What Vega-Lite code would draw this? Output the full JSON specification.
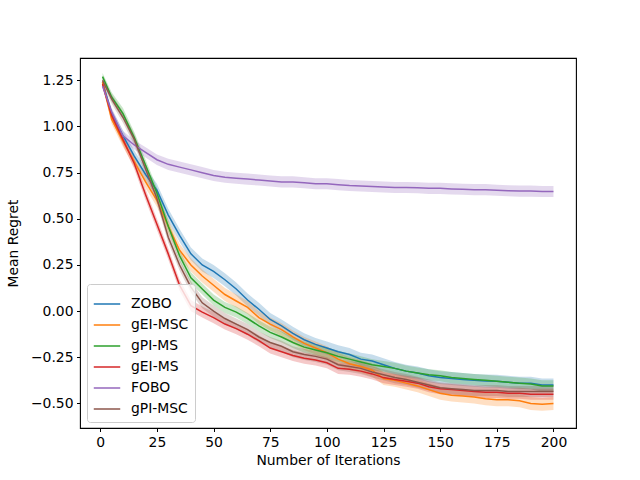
{
  "$schema": "https://vega.github.io/schema/vega-lite/v6.json",
  "width": 496,
  "height": 370,
  "autosize": {"type": "none"},
  "padding": {"left": 80, "top": 58, "right": 64, "bottom": 52},
  "background": "white",
  "config": {
    "font": "DejaVu Sans",
    "view": {"stroke": "black", "strokeWidth": 1.1},
    "axis": {
      "grid": false,
      "domain": false,
      "tickColor": "black",
      "tickSize": 3.5,
      "tickWidth": 1,
      "labelFont": "DejaVu Sans",
      "labelFontSize": 13.9,
      "labelColor": "black",
      "labelPadding": 3.5,
      "titleFont": "DejaVu Sans",
      "titleFontSize": 13.9,
      "titleFontWeight": "normal",
      "titleColor": "black"
    },
    "legend": {
      "labelFont": "DejaVu Sans",
      "labelFontSize": 13.9,
      "labelColor": "black"
    }
  },
  "data": {
    "values": [
      {"s": "ZOBO", "i": 1, "v": 1.24, "e": 0.02},
      {"s": "ZOBO", "i": 5, "v": 1.07, "e": 0.025},
      {"s": "ZOBO", "i": 10, "v": 0.95, "e": 0.03},
      {"s": "ZOBO", "i": 15, "v": 0.84, "e": 0.03},
      {"s": "ZOBO", "i": 20, "v": 0.74, "e": 0.035},
      {"s": "ZOBO", "i": 25, "v": 0.655, "e": 0.035},
      {"s": "ZOBO", "i": 30, "v": 0.52, "e": 0.035},
      {"s": "ZOBO", "i": 35, "v": 0.41, "e": 0.035},
      {"s": "ZOBO", "i": 40, "v": 0.31, "e": 0.035},
      {"s": "ZOBO", "i": 45, "v": 0.25, "e": 0.035},
      {"s": "ZOBO", "i": 50, "v": 0.215, "e": 0.035},
      {"s": "ZOBO", "i": 55, "v": 0.17, "e": 0.035},
      {"s": "ZOBO", "i": 60, "v": 0.12, "e": 0.035},
      {"s": "ZOBO", "i": 65, "v": 0.06, "e": 0.035},
      {"s": "ZOBO", "i": 70, "v": 0.01, "e": 0.035},
      {"s": "ZOBO", "i": 75, "v": -0.045, "e": 0.035},
      {"s": "ZOBO", "i": 80, "v": -0.08, "e": 0.035},
      {"s": "ZOBO", "i": 85, "v": -0.12, "e": 0.035},
      {"s": "ZOBO", "i": 90, "v": -0.155, "e": 0.035},
      {"s": "ZOBO", "i": 95, "v": -0.18, "e": 0.035},
      {"s": "ZOBO", "i": 100, "v": -0.2, "e": 0.035},
      {"s": "ZOBO", "i": 105, "v": -0.22, "e": 0.035},
      {"s": "ZOBO", "i": 110, "v": -0.235, "e": 0.035},
      {"s": "ZOBO", "i": 115, "v": -0.26, "e": 0.035},
      {"s": "ZOBO", "i": 120, "v": -0.27, "e": 0.035},
      {"s": "ZOBO", "i": 125, "v": -0.29, "e": 0.035},
      {"s": "ZOBO", "i": 130, "v": -0.31, "e": 0.035},
      {"s": "ZOBO", "i": 135, "v": -0.325, "e": 0.035},
      {"s": "ZOBO", "i": 140, "v": -0.335, "e": 0.035},
      {"s": "ZOBO", "i": 145, "v": -0.35, "e": 0.035},
      {"s": "ZOBO", "i": 150, "v": -0.36, "e": 0.035},
      {"s": "ZOBO", "i": 155, "v": -0.365, "e": 0.035},
      {"s": "ZOBO", "i": 160, "v": -0.37, "e": 0.035},
      {"s": "ZOBO", "i": 165, "v": -0.375, "e": 0.035},
      {"s": "ZOBO", "i": 170, "v": -0.378, "e": 0.035},
      {"s": "ZOBO", "i": 175, "v": -0.38, "e": 0.035},
      {"s": "ZOBO", "i": 180, "v": -0.385, "e": 0.035},
      {"s": "ZOBO", "i": 185, "v": -0.39, "e": 0.035},
      {"s": "ZOBO", "i": 190, "v": -0.39, "e": 0.035},
      {"s": "ZOBO", "i": 195, "v": -0.4, "e": 0.035},
      {"s": "ZOBO", "i": 200, "v": -0.4, "e": 0.035},

      {"s": "gEI-MSC", "i": 1, "v": 1.24, "e": 0.02},
      {"s": "gEI-MSC", "i": 5, "v": 1.04, "e": 0.025},
      {"s": "gEI-MSC", "i": 10, "v": 0.92, "e": 0.03},
      {"s": "gEI-MSC", "i": 15, "v": 0.81, "e": 0.03},
      {"s": "gEI-MSC", "i": 20, "v": 0.7, "e": 0.035},
      {"s": "gEI-MSC", "i": 25, "v": 0.6, "e": 0.035},
      {"s": "gEI-MSC", "i": 30, "v": 0.46, "e": 0.035},
      {"s": "gEI-MSC", "i": 35, "v": 0.33, "e": 0.035},
      {"s": "gEI-MSC", "i": 40, "v": 0.25, "e": 0.035},
      {"s": "gEI-MSC", "i": 45, "v": 0.19, "e": 0.035},
      {"s": "gEI-MSC", "i": 50, "v": 0.14, "e": 0.035},
      {"s": "gEI-MSC", "i": 55, "v": 0.09, "e": 0.035},
      {"s": "gEI-MSC", "i": 60, "v": 0.055, "e": 0.035},
      {"s": "gEI-MSC", "i": 65, "v": 0.02, "e": 0.035},
      {"s": "gEI-MSC", "i": 70, "v": -0.035, "e": 0.035},
      {"s": "gEI-MSC", "i": 75, "v": -0.07, "e": 0.035},
      {"s": "gEI-MSC", "i": 80, "v": -0.1, "e": 0.035},
      {"s": "gEI-MSC", "i": 85, "v": -0.14, "e": 0.035},
      {"s": "gEI-MSC", "i": 90, "v": -0.175, "e": 0.035},
      {"s": "gEI-MSC", "i": 95, "v": -0.2, "e": 0.035},
      {"s": "gEI-MSC", "i": 100, "v": -0.225, "e": 0.035},
      {"s": "gEI-MSC", "i": 105, "v": -0.26, "e": 0.035},
      {"s": "gEI-MSC", "i": 110, "v": -0.285, "e": 0.035},
      {"s": "gEI-MSC", "i": 115, "v": -0.3, "e": 0.035},
      {"s": "gEI-MSC", "i": 120, "v": -0.32, "e": 0.035},
      {"s": "gEI-MSC", "i": 125, "v": -0.365, "e": 0.035},
      {"s": "gEI-MSC", "i": 130, "v": -0.375, "e": 0.035},
      {"s": "gEI-MSC", "i": 135, "v": -0.39, "e": 0.035},
      {"s": "gEI-MSC", "i": 140, "v": -0.405, "e": 0.035},
      {"s": "gEI-MSC", "i": 145, "v": -0.425, "e": 0.035},
      {"s": "gEI-MSC", "i": 150, "v": -0.445, "e": 0.035},
      {"s": "gEI-MSC", "i": 155, "v": -0.455, "e": 0.035},
      {"s": "gEI-MSC", "i": 160, "v": -0.46, "e": 0.035},
      {"s": "gEI-MSC", "i": 165, "v": -0.465, "e": 0.035},
      {"s": "gEI-MSC", "i": 170, "v": -0.475, "e": 0.035},
      {"s": "gEI-MSC", "i": 175, "v": -0.48, "e": 0.035},
      {"s": "gEI-MSC", "i": 180, "v": -0.48, "e": 0.035},
      {"s": "gEI-MSC", "i": 185, "v": -0.485, "e": 0.035},
      {"s": "gEI-MSC", "i": 190, "v": -0.5, "e": 0.035},
      {"s": "gEI-MSC", "i": 195, "v": -0.505, "e": 0.035},
      {"s": "gEI-MSC", "i": 200, "v": -0.5, "e": 0.035},

      {"s": "gPI-MS", "i": 1, "v": 1.27, "e": 0.02},
      {"s": "gPI-MS", "i": 5, "v": 1.16, "e": 0.025},
      {"s": "gPI-MS", "i": 10, "v": 1.07, "e": 0.03},
      {"s": "gPI-MS", "i": 15, "v": 0.94, "e": 0.03},
      {"s": "gPI-MS", "i": 20, "v": 0.79, "e": 0.03},
      {"s": "gPI-MS", "i": 25, "v": 0.64, "e": 0.03},
      {"s": "gPI-MS", "i": 30, "v": 0.46, "e": 0.03},
      {"s": "gPI-MS", "i": 35, "v": 0.3, "e": 0.03},
      {"s": "gPI-MS", "i": 40, "v": 0.18, "e": 0.03},
      {"s": "gPI-MS", "i": 45, "v": 0.12, "e": 0.03},
      {"s": "gPI-MS", "i": 50, "v": 0.06, "e": 0.03},
      {"s": "gPI-MS", "i": 55, "v": 0.02, "e": 0.03},
      {"s": "gPI-MS", "i": 60, "v": -0.005, "e": 0.03},
      {"s": "gPI-MS", "i": 65, "v": -0.04, "e": 0.03},
      {"s": "gPI-MS", "i": 70, "v": -0.08, "e": 0.03},
      {"s": "gPI-MS", "i": 75, "v": -0.115, "e": 0.03},
      {"s": "gPI-MS", "i": 80, "v": -0.14, "e": 0.03},
      {"s": "gPI-MS", "i": 85, "v": -0.17, "e": 0.03},
      {"s": "gPI-MS", "i": 90, "v": -0.195, "e": 0.03},
      {"s": "gPI-MS", "i": 95, "v": -0.21, "e": 0.03},
      {"s": "gPI-MS", "i": 100, "v": -0.225, "e": 0.03},
      {"s": "gPI-MS", "i": 105, "v": -0.245, "e": 0.03},
      {"s": "gPI-MS", "i": 110, "v": -0.26, "e": 0.03},
      {"s": "gPI-MS", "i": 115, "v": -0.275, "e": 0.03},
      {"s": "gPI-MS", "i": 120, "v": -0.29, "e": 0.03},
      {"s": "gPI-MS", "i": 125, "v": -0.3, "e": 0.03},
      {"s": "gPI-MS", "i": 130, "v": -0.31, "e": 0.03},
      {"s": "gPI-MS", "i": 135, "v": -0.325, "e": 0.03},
      {"s": "gPI-MS", "i": 140, "v": -0.335, "e": 0.03},
      {"s": "gPI-MS", "i": 145, "v": -0.345, "e": 0.03},
      {"s": "gPI-MS", "i": 150, "v": -0.35, "e": 0.03},
      {"s": "gPI-MS", "i": 155, "v": -0.36, "e": 0.03},
      {"s": "gPI-MS", "i": 160, "v": -0.365, "e": 0.03},
      {"s": "gPI-MS", "i": 165, "v": -0.37, "e": 0.03},
      {"s": "gPI-MS", "i": 170, "v": -0.375, "e": 0.03},
      {"s": "gPI-MS", "i": 175, "v": -0.38, "e": 0.03},
      {"s": "gPI-MS", "i": 180, "v": -0.385, "e": 0.03},
      {"s": "gPI-MS", "i": 185, "v": -0.39, "e": 0.03},
      {"s": "gPI-MS", "i": 190, "v": -0.395, "e": 0.03},
      {"s": "gPI-MS", "i": 195, "v": -0.405, "e": 0.03},
      {"s": "gPI-MS", "i": 200, "v": -0.405, "e": 0.03},

      {"s": "gEI-MS", "i": 1, "v": 1.23, "e": 0.02},
      {"s": "gEI-MS", "i": 5, "v": 1.06, "e": 0.025},
      {"s": "gEI-MS", "i": 10, "v": 0.93, "e": 0.03},
      {"s": "gEI-MS", "i": 15, "v": 0.8, "e": 0.03},
      {"s": "gEI-MS", "i": 20, "v": 0.63, "e": 0.03},
      {"s": "gEI-MS", "i": 25, "v": 0.47, "e": 0.03},
      {"s": "gEI-MS", "i": 30, "v": 0.31, "e": 0.03},
      {"s": "gEI-MS", "i": 35, "v": 0.14, "e": 0.03},
      {"s": "gEI-MS", "i": 40, "v": 0.03, "e": 0.03},
      {"s": "gEI-MS", "i": 45, "v": -0.005, "e": 0.03},
      {"s": "gEI-MS", "i": 50, "v": -0.035, "e": 0.03},
      {"s": "gEI-MS", "i": 55, "v": -0.07, "e": 0.03},
      {"s": "gEI-MS", "i": 60, "v": -0.095, "e": 0.03},
      {"s": "gEI-MS", "i": 65, "v": -0.125, "e": 0.03},
      {"s": "gEI-MS", "i": 70, "v": -0.16, "e": 0.03},
      {"s": "gEI-MS", "i": 75, "v": -0.2, "e": 0.03},
      {"s": "gEI-MS", "i": 80, "v": -0.22, "e": 0.03},
      {"s": "gEI-MS", "i": 85, "v": -0.24, "e": 0.03},
      {"s": "gEI-MS", "i": 90, "v": -0.255, "e": 0.03},
      {"s": "gEI-MS", "i": 95, "v": -0.265, "e": 0.03},
      {"s": "gEI-MS", "i": 100, "v": -0.28, "e": 0.03},
      {"s": "gEI-MS", "i": 105, "v": -0.31, "e": 0.03},
      {"s": "gEI-MS", "i": 110, "v": -0.315, "e": 0.03},
      {"s": "gEI-MS", "i": 115, "v": -0.325, "e": 0.03},
      {"s": "gEI-MS", "i": 120, "v": -0.34, "e": 0.03},
      {"s": "gEI-MS", "i": 125, "v": -0.36, "e": 0.03},
      {"s": "gEI-MS", "i": 130, "v": -0.37, "e": 0.03},
      {"s": "gEI-MS", "i": 135, "v": -0.38, "e": 0.03},
      {"s": "gEI-MS", "i": 140, "v": -0.39, "e": 0.03},
      {"s": "gEI-MS", "i": 145, "v": -0.41, "e": 0.03},
      {"s": "gEI-MS", "i": 150, "v": -0.42, "e": 0.03},
      {"s": "gEI-MS", "i": 155, "v": -0.425, "e": 0.03},
      {"s": "gEI-MS", "i": 160, "v": -0.43, "e": 0.03},
      {"s": "gEI-MS", "i": 165, "v": -0.435, "e": 0.03},
      {"s": "gEI-MS", "i": 170, "v": -0.44, "e": 0.03},
      {"s": "gEI-MS", "i": 175, "v": -0.44, "e": 0.03},
      {"s": "gEI-MS", "i": 180, "v": -0.445, "e": 0.03},
      {"s": "gEI-MS", "i": 185, "v": -0.445, "e": 0.03},
      {"s": "gEI-MS", "i": 190, "v": -0.45, "e": 0.03},
      {"s": "gEI-MS", "i": 195, "v": -0.45, "e": 0.03},
      {"s": "gEI-MS", "i": 200, "v": -0.45, "e": 0.03},

      {"s": "FOBO", "i": 1, "v": 1.22, "e": 0.015},
      {"s": "FOBO", "i": 5, "v": 1.08, "e": 0.02},
      {"s": "FOBO", "i": 10, "v": 0.95, "e": 0.025},
      {"s": "FOBO", "i": 15, "v": 0.9, "e": 0.025},
      {"s": "FOBO", "i": 20, "v": 0.86, "e": 0.028},
      {"s": "FOBO", "i": 25, "v": 0.82, "e": 0.028},
      {"s": "FOBO", "i": 30, "v": 0.795, "e": 0.03},
      {"s": "FOBO", "i": 35, "v": 0.78, "e": 0.03},
      {"s": "FOBO", "i": 40, "v": 0.765, "e": 0.03},
      {"s": "FOBO", "i": 45, "v": 0.75, "e": 0.03},
      {"s": "FOBO", "i": 50, "v": 0.735, "e": 0.03},
      {"s": "FOBO", "i": 55, "v": 0.725, "e": 0.03},
      {"s": "FOBO", "i": 60, "v": 0.72, "e": 0.03},
      {"s": "FOBO", "i": 65, "v": 0.715, "e": 0.03},
      {"s": "FOBO", "i": 70, "v": 0.71, "e": 0.03},
      {"s": "FOBO", "i": 75, "v": 0.705, "e": 0.03},
      {"s": "FOBO", "i": 80, "v": 0.7, "e": 0.03},
      {"s": "FOBO", "i": 85, "v": 0.7, "e": 0.03},
      {"s": "FOBO", "i": 90, "v": 0.695, "e": 0.03},
      {"s": "FOBO", "i": 95, "v": 0.69, "e": 0.03},
      {"s": "FOBO", "i": 100, "v": 0.69, "e": 0.03},
      {"s": "FOBO", "i": 105, "v": 0.685, "e": 0.03},
      {"s": "FOBO", "i": 110, "v": 0.68, "e": 0.03},
      {"s": "FOBO", "i": 115, "v": 0.678, "e": 0.03},
      {"s": "FOBO", "i": 120, "v": 0.675, "e": 0.03},
      {"s": "FOBO", "i": 125, "v": 0.672, "e": 0.03},
      {"s": "FOBO", "i": 130, "v": 0.67, "e": 0.03},
      {"s": "FOBO", "i": 135, "v": 0.67, "e": 0.03},
      {"s": "FOBO", "i": 140, "v": 0.668, "e": 0.03},
      {"s": "FOBO", "i": 145, "v": 0.665, "e": 0.03},
      {"s": "FOBO", "i": 150, "v": 0.665, "e": 0.03},
      {"s": "FOBO", "i": 155, "v": 0.662, "e": 0.03},
      {"s": "FOBO", "i": 160, "v": 0.66, "e": 0.03},
      {"s": "FOBO", "i": 165, "v": 0.658, "e": 0.03},
      {"s": "FOBO", "i": 170, "v": 0.658, "e": 0.03},
      {"s": "FOBO", "i": 175, "v": 0.655, "e": 0.03},
      {"s": "FOBO", "i": 180, "v": 0.652, "e": 0.03},
      {"s": "FOBO", "i": 185, "v": 0.65, "e": 0.03},
      {"s": "FOBO", "i": 190, "v": 0.65, "e": 0.03},
      {"s": "FOBO", "i": 195, "v": 0.648, "e": 0.03},
      {"s": "FOBO", "i": 200, "v": 0.648, "e": 0.03},

      {"s": "gPI-MSC", "i": 1, "v": 1.25, "e": 0.02},
      {"s": "gPI-MSC", "i": 5, "v": 1.15, "e": 0.025},
      {"s": "gPI-MSC", "i": 10, "v": 1.05, "e": 0.03},
      {"s": "gPI-MSC", "i": 15, "v": 0.93, "e": 0.03},
      {"s": "gPI-MSC", "i": 20, "v": 0.77, "e": 0.03},
      {"s": "gPI-MSC", "i": 25, "v": 0.61, "e": 0.03},
      {"s": "gPI-MSC", "i": 30, "v": 0.4, "e": 0.03},
      {"s": "gPI-MSC", "i": 35, "v": 0.25, "e": 0.03},
      {"s": "gPI-MSC", "i": 40, "v": 0.13, "e": 0.03},
      {"s": "gPI-MSC", "i": 45, "v": 0.045, "e": 0.03},
      {"s": "gPI-MSC", "i": 50, "v": 0.0, "e": 0.03},
      {"s": "gPI-MSC", "i": 55, "v": -0.04, "e": 0.03},
      {"s": "gPI-MSC", "i": 60, "v": -0.07, "e": 0.03},
      {"s": "gPI-MSC", "i": 65, "v": -0.1, "e": 0.03},
      {"s": "gPI-MSC", "i": 70, "v": -0.14, "e": 0.03},
      {"s": "gPI-MSC", "i": 75, "v": -0.17, "e": 0.03},
      {"s": "gPI-MSC", "i": 80, "v": -0.19, "e": 0.03},
      {"s": "gPI-MSC", "i": 85, "v": -0.22, "e": 0.03},
      {"s": "gPI-MSC", "i": 90, "v": -0.235, "e": 0.03},
      {"s": "gPI-MSC", "i": 95, "v": -0.245, "e": 0.03},
      {"s": "gPI-MSC", "i": 100, "v": -0.26, "e": 0.03},
      {"s": "gPI-MSC", "i": 105, "v": -0.29, "e": 0.03},
      {"s": "gPI-MSC", "i": 110, "v": -0.3, "e": 0.03},
      {"s": "gPI-MSC", "i": 115, "v": -0.31, "e": 0.03},
      {"s": "gPI-MSC", "i": 120, "v": -0.33, "e": 0.03},
      {"s": "gPI-MSC", "i": 125, "v": -0.345, "e": 0.03},
      {"s": "gPI-MSC", "i": 130, "v": -0.36, "e": 0.03},
      {"s": "gPI-MSC", "i": 135, "v": -0.37, "e": 0.03},
      {"s": "gPI-MSC", "i": 140, "v": -0.385, "e": 0.03},
      {"s": "gPI-MSC", "i": 145, "v": -0.4, "e": 0.03},
      {"s": "gPI-MSC", "i": 150, "v": -0.415, "e": 0.03},
      {"s": "gPI-MSC", "i": 155, "v": -0.42, "e": 0.03},
      {"s": "gPI-MSC", "i": 160, "v": -0.425, "e": 0.03},
      {"s": "gPI-MSC", "i": 165, "v": -0.43, "e": 0.03},
      {"s": "gPI-MSC", "i": 170, "v": -0.43, "e": 0.03},
      {"s": "gPI-MSC", "i": 175, "v": -0.43, "e": 0.03},
      {"s": "gPI-MSC", "i": 180, "v": -0.435, "e": 0.03},
      {"s": "gPI-MSC", "i": 185, "v": -0.435, "e": 0.03},
      {"s": "gPI-MSC", "i": 190, "v": -0.435, "e": 0.03},
      {"s": "gPI-MSC", "i": 195, "v": -0.435, "e": 0.03},
      {"s": "gPI-MSC", "i": 200, "v": -0.435, "e": 0.03}
    ]
  },
  "encoding": {
    "x": {
      "field": "i",
      "type": "quantitative",
      "title": "Number of Iterations",
      "scale": {"domain": [-8.95, 209.95], "nice": false, "zero": false},
      "axis": {"values": [0, 25, 50, 75, 100, 125, 150, 175, 200], "format": "d", "titlePadding": 5}
    },
    "color": {
      "field": "s",
      "type": "nominal",
      "sort": null,
      "scale": {
        "domain": ["ZOBO", "gEI-MSC", "gPI-MS", "gEI-MS", "FOBO", "gPI-MSC"],
        "range": ["#1f77b4", "#ff7f0e", "#2ca02c", "#d62728", "#9467bd", "#8c564b"]
      },
      "legend": {
        "title": null,
        "orient": "none",
        "legendX": 7,
        "legendY": 226,
        "symbolType": "stroke",
        "symbolSize": 700,
        "symbolStrokeWidth": 1.5,
        "symbolOpacity": 1,
        "labelOffset": 10,
        "rowPadding": 0,
        "padding": 6,
        "fillColor": "rgba(255,255,255,0.8)",
        "strokeColor": "#cccccc",
        "cornerRadius": 3
      }
    }
  },
  "layer": [
    {
      "mark": {"type": "errorband", "opacity": 0.25},
      "encoding": {
        "y": {
          "field": "v",
          "type": "quantitative",
          "title": "Mean Regret",
          "scale": {"domain": [-0.633, 1.371], "nice": false, "zero": false},
          "axis": {"values": [-0.5, -0.25, 0, 0.25, 0.5, 0.75, 1, 1.25], "format": ".2f", "titlePadding": 10}
        },
        "yError": {"field": "e"}
      }
    },
    {
      "mark": {"type": "line", "strokeWidth": 1.5},
      "encoding": {
        "y": {"field": "v", "type": "quantitative"}
      }
    }
  ]
}
